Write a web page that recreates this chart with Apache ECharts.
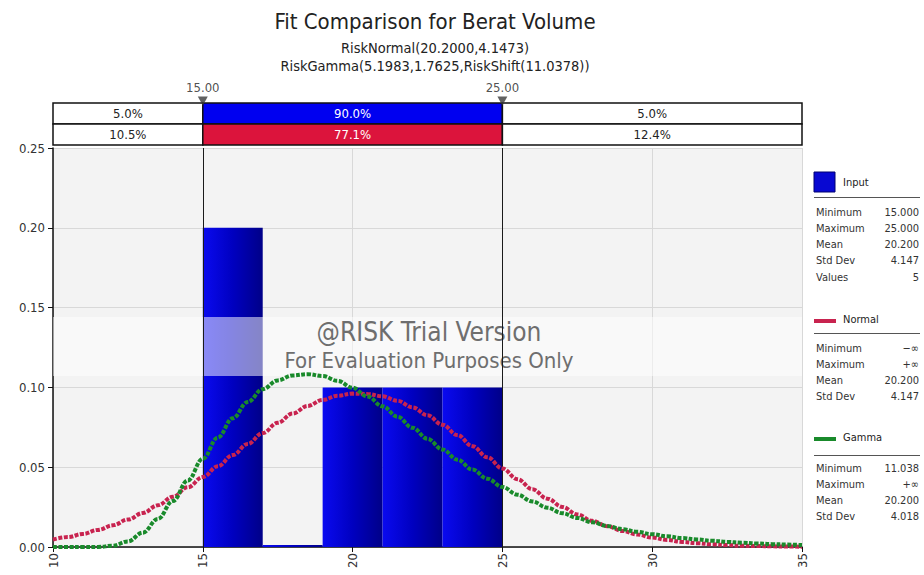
<!DOCTYPE html>
<html>
<head>
<meta charset="utf-8">
<title>Fit Comparison for Berat Volume</title>
<script src="https://cdn.jsdelivr.net/npm/echarts@6/dist/echarts.min.js"></script>
<style>
  html, body { margin: 0; padding: 0; background: #ffffff; }
  #chart { width: 924px; height: 575px; }
</style>
</head>
<body>
<div id="chart"></div>
<script>
// ---- data ----
const xTicks = [10, 15, 20, 25, 30, 35];
const binStart = [15, 17, 19, 21, 23];
const binEnd = [17, 19, 21, 23, 25];
const inputDensity = [0.20, 0.00, 0.10, 0.10, 0.10];

const curveX = [10, 10.5, 11, 11.5, 12, 12.5, 13, 13.5, 14, 14.5, 15, 15.5, 16, 16.5, 17, 17.5, 18, 18.5, 19, 19.5,
  20, 20.5, 21, 21.5, 22, 22.5, 23, 23.5, 24, 24.5, 25, 25.5, 26, 26.5, 27, 27.5, 28, 28.5, 29, 29.5,
  30, 30.5, 31, 31.5, 32, 32.5, 33, 33.5, 34, 34.5, 35];
const normalPdf = [0.0047, 0.0062, 0.0082, 0.0107, 0.0136, 0.0172, 0.0213, 0.0261, 0.0315, 0.0374, 0.0438,
  0.0506, 0.0576, 0.0646, 0.0714, 0.0778, 0.0836, 0.0884, 0.0922, 0.0948, 0.0961, 0.0959, 0.0944, 0.0916,
  0.0875, 0.0825, 0.0766, 0.0701, 0.0632, 0.0562, 0.0492, 0.0425, 0.0362, 0.0303, 0.0251, 0.0204, 0.0164,
  0.0130, 0.0101, 0.0078, 0.0059, 0.0044, 0.0032, 0.0024, 0.0017, 0.0012, 0.0008, 0.0006, 0.0004, 0.0003, 0.0002];
const gammaPdf = [0.0000, 0.0000, 0.0000, 0.0000, 0.0008, 0.0035, 0.0090, 0.0176, 0.0288, 0.0417, 0.0553,
  0.0686, 0.0807, 0.0909, 0.0989, 0.1044, 0.1075, 0.1083, 0.1071, 0.1041, 0.0998, 0.0943, 0.0882, 0.0816,
  0.0747, 0.0678, 0.0611, 0.0547, 0.0485, 0.0428, 0.0376, 0.0328, 0.0285, 0.0246, 0.0212, 0.0182, 0.0155,
  0.0132, 0.0112, 0.0095, 0.0080, 0.0067, 0.0056, 0.0047, 0.0039, 0.0032, 0.0027, 0.0022, 0.0018, 0.0015, 0.0012];

const bandEdges = [10, 15, 25, 35];
const inputBand = ['5.0%', '90.0%', '5.0%'];
const normalBand = ['10.5%', '77.1%', '12.4%'];
const markerValues = [15, 25];
const markerLabels = ['15.00', '25.00'];

const statNames = ['Minimum', 'Maximum', 'Mean', 'Std Dev', 'Values'];
const inputStats = ['15.000', '25.000', '20.200', '4.147', '5'];
const normalStats = ['\u2212\u221e', '+\u221e', '20.200', '4.147'];
const gammaStats = ['11.038', '+\u221e', '20.200', '4.018'];

const titleText = 'Fit Comparison for Berat Volume';
const normalFn = 'RiskNormal(20.2000,4.1473)';
const gammaFn = 'RiskGamma(5.1983,1.7625,RiskShift(11.0378))';

// ---- styles ----
const FONT = "Tahoma, 'DejaVu Sans Condensed', 'Liberation Sans Narrow', 'Liberation Sans', sans-serif";
const BLUE = '#0000f0';
const CRIMSON = '#dc143c';
const NORMAL_RED = '#c8234f';
const GAMMA_GREEN = '#198a2b';

const chart = echarts.init(document.getElementById('chart'), null, { renderer: 'svg' });

// band cells: [row, col]
const bandCells = [];
for (let r = 0; r < 2; r++) for (let c = 0; c < 3; c++) bandCells.push([r, c]);

// legend / statistics panel
function statBlock(names, values, y0) {
  const out = [];
  values.forEach((v, i) => {
    const y = y0 + i * 16.3;
    out.push({ type: 'text', x: 816, y: y, style: { text: names[i], font: '11px ' + FONT, fill: '#333', textVerticalAlign: 'middle' } });
    out.push({ type: 'text', x: 919, y: y, style: { text: v, font: '11px ' + FONT, fill: '#333', textAlign: 'right', textVerticalAlign: 'middle' } });
  });
  return out;
}

const panel = [
  { type: 'rect', shape: { x: 814, y: 172, width: 21, height: 20 }, style: { fill: '#0808d2', stroke: '#000070', lineWidth: 1 } },
  { type: 'text', x: 843, y: 182, style: { text: 'Input', font: '11px ' + FONT, fill: '#222', textVerticalAlign: 'middle' } },
  { type: 'line', shape: { x1: 814, y1: 197.5, x2: 920, y2: 197.5 }, style: { stroke: '#555', lineWidth: 1 } },
  ...statBlock(statNames, inputStats, 212),

  { type: 'line', shape: { x1: 814, y1: 321, x2: 836, y2: 321 }, style: { stroke: NORMAL_RED, lineWidth: 4 } },
  { type: 'text', x: 843, y: 319, style: { text: 'Normal', font: '11px ' + FONT, fill: '#222', textVerticalAlign: 'middle' } },
  { type: 'line', shape: { x1: 814, y1: 333.5, x2: 920, y2: 333.5 }, style: { stroke: '#555', lineWidth: 1 } },
  ...statBlock(statNames, normalStats, 348),

  { type: 'line', shape: { x1: 814, y1: 439, x2: 836, y2: 439 }, style: { stroke: GAMMA_GREEN, lineWidth: 4 } },
  { type: 'text', x: 843, y: 437, style: { text: 'Gamma', font: '11px ' + FONT, fill: '#222', textVerticalAlign: 'middle' } },
  { type: 'line', shape: { x1: 814, y1: 455.5, x2: 920, y2: 455.5 }, style: { stroke: '#555', lineWidth: 1 } },
  ...statBlock(statNames, gammaStats, 468)
];

// trial watermark drawn across the plot
const watermark = [
  { type: 'rect', z: 3, shape: { x: 53, y: 317, width: 749, height: 59 }, style: { fill: 'rgba(255,255,255,0.52)' } },
  { type: 'text', z: 4, x: 429, y: 332, style: { text: '@RISK Trial Version', font: '26px ' + FONT, fill: '#6e6e6e', textAlign: 'center', textVerticalAlign: 'middle' } },
  { type: 'text', z: 4, x: 429, y: 360, style: { text: 'For Evaluation Purposes Only', font: '22px ' + FONT, fill: '#6e6e6e', textAlign: 'center', textVerticalAlign: 'middle' } }
];

const option = {
  animation: false,
  backgroundColor: '#ffffff',
  title: [
    { text: titleText, left: 430, top: 5, textAlign: 'center',
      textStyle: { fontSize: 22, fontWeight: 'normal', color: '#222', fontFamily: FONT } },
    { text: normalFn, left: 430, top: 35, textAlign: 'center',
      textStyle: { fontSize: 14.5, fontWeight: 'normal', color: '#222', fontFamily: FONT } },
    { text: gammaFn, left: 430, top: 53, textAlign: 'center',
      textStyle: { fontSize: 14.5, fontWeight: 'normal', color: '#222', fontFamily: FONT } }
  ],
  grid: [
    { left: 53, top: 148, width: 749, height: 399, show: true, backgroundColor: '#f3f3f3', borderWidth: 0 },
    { left: 53, top: 103, width: 749, height: 42, show: false }
  ],
  xAxis: [
    {
      type: 'value', gridIndex: 0, min: 10, max: 35, interval: 5,
      axisLine: { show: true, lineStyle: { color: '#111', width: 1.5 } },
      axisTick: { show: true, length: 5, lineStyle: { color: '#111' } },
      axisLabel: { rotate: 90, margin: 6, fontSize: 13, color: '#333', fontFamily: FONT,
        customValues: xTicks, formatter: v => String(v) },
      splitLine: { show: true, lineStyle: { color: '#d8d8d8', width: 1 } }
    },
    { type: 'value', gridIndex: 1, min: 10, max: 35, show: false }
  ],
  yAxis: [
    {
      type: 'value', gridIndex: 0, min: 0, max: 0.25, interval: 0.05,
      axisLine: { show: true, lineStyle: { color: '#111', width: 1.5 } },
      axisTick: { show: true, length: 5, lineStyle: { color: '#111' } },
      axisLabel: { margin: 8, fontSize: 13, color: '#333', fontFamily: FONT, formatter: v => v.toFixed(2) },
      splitLine: { show: true, lineStyle: { color: '#d8d8d8', width: 1 } }
    },
    { type: 'value', gridIndex: 1, min: 0, max: 2, inverse: true, show: false }
  ],
  graphic: [...watermark, ...panel],
  series: [
    // input histogram
    {
      type: 'custom', name: 'Input', xAxisIndex: 0, yAxisIndex: 0, z: 2,
      data: binStart.map((s, i) => [s, binEnd[i], inputDensity[i]]),
      renderItem: (params, api) => {
        const p0 = api.coord([api.value(0), api.value(2)]);
        const p1 = api.coord([api.value(1), 0]);
        let h = p1[1] - p0[1];
        let y = p0[1];
        if (h < 2) { h = 2; y = p1[1] - 2; }
        return {
          type: 'rect',
          shape: { x: p0[0], y: y, width: p1[0] - p0[0], height: h },
          style: {
            fill: new echarts.graphic.LinearGradient(0, 0, 1, 0, [
              { offset: 0, color: '#0a0af0' },
              { offset: 0.5, color: '#0000c0' },
              { offset: 1, color: '#000088' }
            ])
          }
        };
      },
      markLine: {
        silent: true, symbol: 'none', label: { show: false },
        lineStyle: { color: '#1a1a1a', width: 1, type: 'solid' },
        data: markerValues.map(v => ({ xAxis: v }))
      }
    },
    // normal fit
    {
      type: 'line', name: 'Normal', xAxisIndex: 0, yAxisIndex: 0, z: 6,
      data: curveX.map((x, i) => [x, normalPdf[i]]),
      smooth: 0.4, smoothMonotone: 'x', showSymbol: false,
      lineStyle: { color: NORMAL_RED, width: 4, type: [4, 1.5] }
    },
    // gamma fit
    {
      type: 'line', name: 'Gamma', xAxisIndex: 0, yAxisIndex: 0, z: 7,
      data: curveX.map((x, i) => [x, gammaPdf[i]]),
      smooth: 0.4, smoothMonotone: 'x', showSymbol: false,
      lineStyle: { color: GAMMA_GREEN, width: 4, type: [4, 1.5] }
    },
    // probability bands above the plot
    {
      type: 'custom', xAxisIndex: 1, yAxisIndex: 1, z: 2,
      data: bandCells,
      renderItem: (params, api) => {
        const row = api.value(0), col = api.value(1);
        const a = api.coord([bandEdges[col], row]);
        const b = api.coord([bandEdges[col + 1], row + 1]);
        const colored = col === 1;
        const fill = colored ? (row === 0 ? BLUE : CRIMSON) : '#ffffff';
        const label = row === 0 ? inputBand[col] : normalBand[col];
        return {
          type: 'group',
          children: [
            { type: 'rect', shape: { x: a[0], y: a[1], width: b[0] - a[0], height: b[1] - a[1] },
              style: { fill: fill, stroke: '#111', lineWidth: 1.5 } },
            { type: 'text', x: (a[0] + b[0]) / 2, y: (a[1] + b[1]) / 2,
              style: { text: label, font: '13px ' + FONT, fill: colored ? '#ffffff' : '#222',
                textAlign: 'center', textVerticalAlign: 'middle' } }
          ]
        };
      }
    },
    // limit markers
    {
      type: 'scatter', xAxisIndex: 1, yAxisIndex: 1, z: 5,
      data: markerValues.map((v, i) => ({ value: [v, 0], name: markerLabels[i] })),
      symbol: 'triangle', symbolRotate: 180, symbolSize: [10, 9], symbolOffset: [0, -2],
      itemStyle: { color: '#3a3a3a' },
      label: { show: true, position: 'top', distance: 3, formatter: p => p.name,
        fontSize: 13, color: '#222', fontFamily: FONT }
    }
  ]
};

chart.setOption(option);
</script>
</body>
</html>
